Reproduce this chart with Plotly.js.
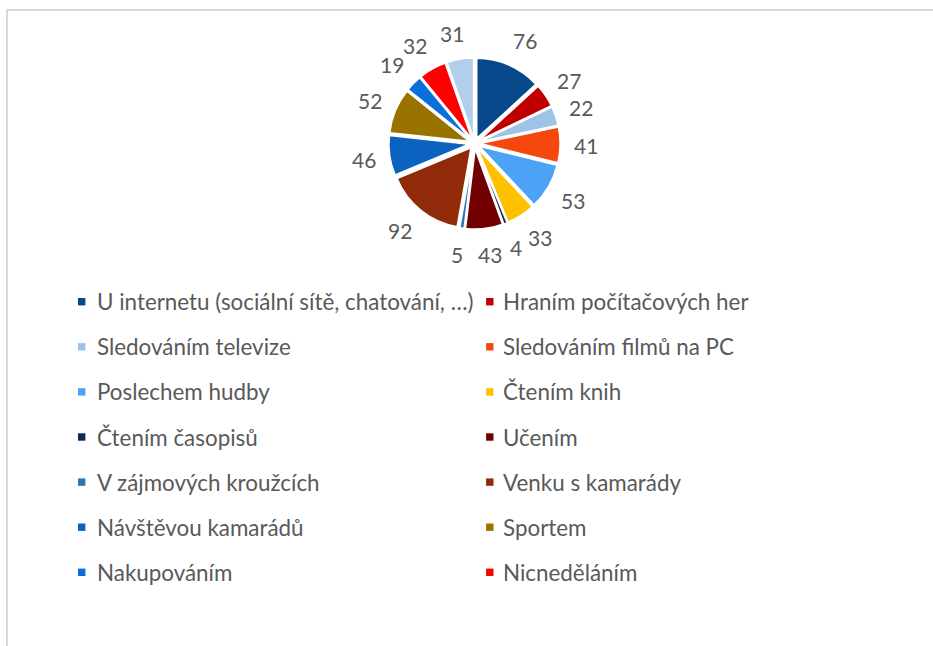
<!DOCTYPE html>
<html>
<head>
<meta charset="utf-8">
<script src="https://cdn.plot.ly/plotly-3.0.1.min.js"></script>
<style>
html,body{margin:0;padding:0;background:#ffffff;}
#chart{width:933px;height:646px;}
</style>
</head>
<body>
<div id="chart"></div>
<script>
// ---- data ----
const categories = [
  "U internetu (sociální sítě, chatování, …)",
  "Hraním počítačových her",
  "Sledováním televize",
  "Sledováním filmů na PC",
  "Poslechem hudby",
  "Čtením knih",
  "Čtením časopisů",
  "Učením",
  "V zájmových kroužcích",
  "Venku s kamarády",
  "Návštěvou kamarádů",
  "Sportem",
  "Nakupováním",
  "Nicneděláním",
  "Jinak"
];
const values = [76, 27, 22, 41, 53, 33, 4, 43, 5, 92, 46, 52, 19, 32, 31];
const colors = [
  "#06488A", "#C00000", "#9DC3E6", "#F4480E", "#4CA3F6",
  "#FFC000", "#0C2D52", "#730000", "#2E75B6", "#912A08",
  "#0B62BF", "#997300", "#0A6FD8", "#FF0000", "#B1CFEA"
];
const legendCount = 14; // the last legend entry is cut off in the original

// ---- layout constants ----
const W = 933, H = 646;
const cx = 474.5, cy = 143.5, r = 80, pull = 0.07;
const R = r * (1 + pull);
const labelR = 100;
const textColor = "#595959";
const fontFamily = "Lato, 'Open Sans', sans-serif";

const pie = {
  type: "pie",
  labels: categories,
  values: values,
  sort: false,
  direction: "clockwise",
  rotation: 0,
  pull: pull,
  marker: { colors: colors, line: { color: "#ffffff", width: 1.5 } },
  textinfo: "none",
  hoverinfo: "label+value",
  showlegend: false,
  domain: { x: [(cx - R) / W, (cx + R) / W], y: [1 - (cy + R) / H, 1 - (cy - R) / H] }
};

const total = values.reduce((a, b) => a + b, 0);
const annotations = [];
const shapes = [];

// data labels, placed just outside each slice
let cum = 0;
values.forEach((v, i) => {
  const mid = (cum + v / 2) / total * 2 * Math.PI;
  cum += v;
  const sx = Math.sin(mid), sy = -Math.cos(mid);
  const halfW = String(v).length * 6, halfH = 12;
  const px = cx + labelR * sx + Math.tanh(sx * 3) * halfW;
  const py = cy + labelR * sy + sy * halfH;
  annotations.push({
    xref: "paper", yref: "paper",
    x: px / W, y: 1 - py / H,
    text: String(v),
    showarrow: false,
    xanchor: "center", yanchor: "middle",
    font: { family: fontFamily, size: 21, color: textColor }
  });
});

// legend
const colMarkerX = [81.7, 489.8];
const colTextX = [94.7, 501.3];
const row0 = 301.7, rowStep = 45.1, mSize = 7.4;
for (let i = 0; i < legendCount; i++) {
  const row = Math.floor(i / 2), col = i % 2;
  const my = row0 + rowStep * row;
  const mx = colMarkerX[col];
  shapes.push({
    type: "rect", xref: "paper", yref: "paper",
    x0: (mx - mSize / 2) / W, x1: (mx + mSize / 2) / W,
    y0: 1 - (my + mSize / 2) / H, y1: 1 - (my - mSize / 2) / H,
    fillcolor: colors[i], line: { width: 0 }
  });
  annotations.push({
    xref: "paper", yref: "paper",
    x: colTextX[col] / W, y: 1 - my / H,
    text: categories[i],
    showarrow: false,
    xanchor: "left", yanchor: "middle",
    font: { family: fontFamily, size: 22.4, color: textColor }
  });
}

// chart border (extends beyond the visible window on right/bottom)
shapes.push({
  type: "rect", xref: "paper", yref: "paper",
  x0: 7 / W, x1: 1.2, y0: -0.2, y1: 1 - 10 / H,
  line: { color: "#D9D9D9", width: 2 }, fillcolor: "rgba(0,0,0,0)", layer: "below"
});

const layout = {
  width: W, height: H,
  margin: { l: 0, r: 0, t: 0, b: 0 },
  paper_bgcolor: "#ffffff",
  plot_bgcolor: "#ffffff",
  showlegend: false,
  annotations: annotations,
  shapes: shapes,
  font: { family: fontFamily, color: textColor }
};

Plotly.newPlot("chart", [pie], layout, { displayModeBar: false, staticPlot: true });
</script>
</body>
</html>
